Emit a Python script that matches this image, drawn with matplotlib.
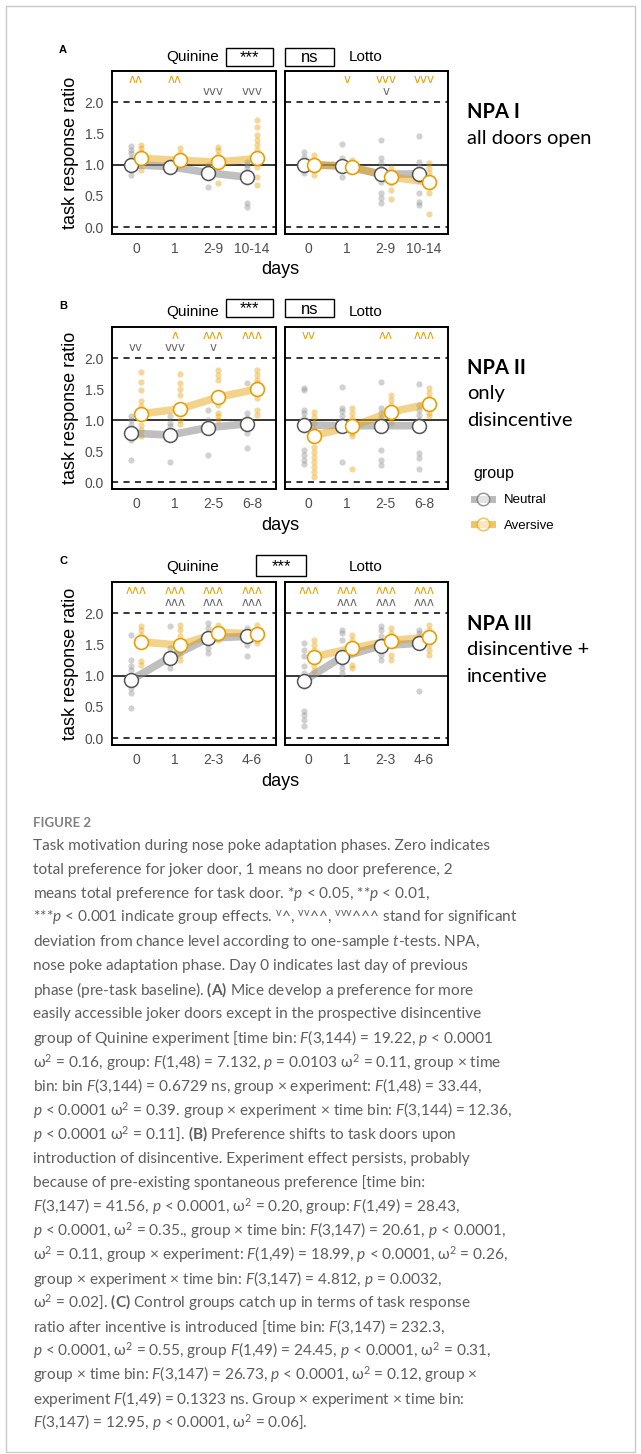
import numpy as np
import matplotlib
matplotlib.use("Agg")
import matplotlib.pyplot as plt
from matplotlib.lines import Line2D
from matplotlib.patches import Rectangle

# ---------------- data ----------------
a_days = ["0", "1", "2-9", "10-14"]
b_days = ["0", "1", "2-5", "6-8"]
c_days = ["0", "1", "2-3", "4-6"]

# Panel A  (NPA I)
a_quin_neu_mean = [1.00, 0.97, 0.87, 0.80]
a_quin_ave_mean = [1.10, 1.07, 1.04, 1.10]
a_quin_neu_pts = [[1.30, 1.24, 1.18, 1.10, 1.05, 1.00, 0.92, 0.84],
                  [1.05, 1.00, 0.98, 0.95, 0.92],
                  [1.00, 0.92, 0.78, 0.65],
                  [1.05, 1.00, 0.94, 0.89, 0.81, 0.73, 0.38, 0.33]]
a_quin_ave_pts = [[1.32, 1.26, 1.21, 1.16, 1.10, 1.02, 0.92],
                  [1.26, 1.18, 1.10, 1.05, 1.00],
                  [1.29, 1.24, 1.16, 1.08, 1.00, 0.70],
                  [1.71, 1.61, 1.48, 1.40, 1.32, 1.24, 1.13, 0.97, 0.81, 0.68]]
a_quin_sig_ave = ["^^", "^^", "", ""]
a_quin_sig_neu = ["", "", "vvv", "vvv"]

a_lotto_neu_mean = [1.00, 0.98, 0.85, 0.85]
a_lotto_ave_mean = [1.00, 0.97, 0.80, 0.72]
a_lotto_neu_pts = [[1.21, 1.13, 1.05, 1.00, 0.92, 0.86],
                   [1.33, 1.10, 1.03, 0.92, 0.81],
                   [1.39, 1.10, 1.02, 0.94, 0.86, 0.73, 0.54, 0.46, 0.38],
                   [1.46, 1.05, 0.97, 0.89, 0.76, 0.54, 0.41, 0.36]]
a_lotto_ave_pts = [[1.16, 1.08, 1.00, 0.92, 0.84],
                   [1.08, 1.02, 0.97, 0.92],
                   [0.94, 0.89, 0.81, 0.70, 0.60, 0.45],
                   [1.02, 0.94, 0.86, 0.73, 0.65, 0.54, 0.21]]
a_lotto_sig_ave = ["", "v", "vvv", "vvv"]
a_lotto_sig_neu = ["", "", "v", ""]

# Panel B  (NPA II)
b_quin_neu_mean = [0.79, 0.76, 0.88, 0.94]
b_quin_ave_mean = [1.10, 1.18, 1.37, 1.50]
b_quin_neu_pts = [[1.06, 1.00, 0.92, 0.84, 0.76, 0.68, 0.36],
                  [1.06, 0.95, 0.90, 0.82, 0.74, 0.33],
                  [1.17, 1.00, 0.92, 0.84, 0.44],
                  [1.60, 1.11, 1.03, 0.95, 0.87, 0.79, 0.55]]
b_quin_ave_pts = [[1.77, 1.62, 1.49, 1.30, 1.22, 1.11, 1.03, 0.92, 0.84, 0.74],
                  [1.74, 1.60, 1.50, 1.41, 1.25, 1.14, 1.00, 0.94],
                  [1.80, 1.73, 1.65, 1.41, 1.25, 1.11, 1.06, 1.00],
                  [1.80, 1.73, 1.65, 1.60, 1.44, 1.35, 1.17, 1.09]]
b_quin_sig_ave = ["", "^", "^^^", "^^^"]
b_quin_sig_neu = ["vv", "vvv", "v", ""]

b_lotto_neu_mean = [0.92, 0.91, 0.91, 0.91]
b_lotto_ave_mean = [0.75, 0.90, 1.13, 1.26]
b_lotto_neu_pts = [[1.52, 1.49, 1.17, 1.12, 1.04, 0.96, 0.92, 0.84, 0.52, 0.44, 0.36, 0.30],
                   [1.54, 1.20, 1.15, 1.06, 0.98, 0.90, 0.33],
                   [1.61, 1.19, 1.11, 1.03, 0.90, 0.52, 0.36, 0.28],
                   [1.58, 1.25, 1.17, 1.09, 1.00, 0.90, 0.47, 0.39, 0.21]]
b_lotto_ave_pts = [[1.13, 1.05, 0.96, 0.84, 0.76, 0.68, 0.57, 0.49, 0.41, 0.33, 0.25, 0.17, 0.09],
                   [1.19, 1.11, 1.03, 0.95, 0.87, 0.79, 0.74, 0.21],
                   [1.41, 1.33, 1.25, 1.14, 1.03, 0.95],
                   [1.52, 1.44, 1.35, 1.27, 1.19, 1.11, 1.06]]
b_lotto_sig_ave = ["vv", "", "^^", "^^^"]
b_lotto_sig_neu = ["", "", "", ""]

# Panel C  (NPA III)
c_quin_neu_mean = [0.93, 1.29, 1.60, 1.63]
c_quin_ave_mean = [1.54, 1.49, 1.69, 1.67]
c_quin_neu_pts = [[1.65, 1.25, 1.15, 1.09, 0.99, 0.88, 0.80, 0.72, 0.48],
                  [1.79, 1.44, 1.36, 1.23, 1.12],
                  [1.84, 1.76, 1.68, 1.52, 1.44, 1.36],
                  [1.76, 1.68, 1.60, 1.49, 1.31]]
c_quin_ave_pts = [[1.79, 1.73, 1.65, 1.57, 1.49, 1.23, 1.17],
                  [1.81, 1.73, 1.63, 1.52, 1.41, 1.33, 1.25],
                  [1.81, 1.73, 1.65, 1.57],
                  [1.81, 1.73, 1.65, 1.57, 1.52]]
c_quin_sig_ave = ["^^^", "^^^", "^^^", "^^^"]
c_quin_sig_neu = ["", "^^^", "^^^", "^^^"]

c_lotto_neu_mean = [0.92, 1.30, 1.48, 1.52]
c_lotto_ave_mean = [1.30, 1.44, 1.56, 1.62]
c_lotto_neu_pts = [[1.52, 1.41, 1.31, 1.15, 1.04, 0.91, 0.83, 0.43, 0.37, 0.29, 0.19],
                   [1.73, 1.68, 1.57, 1.31, 1.20, 1.12, 1.04],
                   [1.79, 1.73, 1.63, 1.41, 1.33, 1.25],
                   [1.73, 1.68, 1.57, 1.49, 0.75]]
c_lotto_ave_pts = [[1.57, 1.49, 1.41, 1.33, 1.23, 1.15, 1.07],
                   [1.65, 1.57, 1.49, 1.36, 1.17, 1.12],
                   [1.76, 1.68, 1.63, 1.49, 1.33, 1.25],
                   [1.81, 1.73, 1.65, 1.49, 1.41, 1.33]]
c_lotto_sig_ave = ["^^^", "^^^", "^^^", "^^^"]
c_lotto_sig_neu = ["", "^^^", "^^^", "^^^"]

yticks = [0.0, 0.5, 1.0, 1.5, 2.0]

caption_lines = [
    "Task motivation during nose poke adaptation phases. Zero indicates",
    "total preference for joker door, 1 means no door preference, 2",
    r"means total preference for task door. *$p$ < 0.05, **$p$ < 0.01,",
    r"***$p$ < 0.001 indicate group effects. $^{\rm v}$^, $^{\rm vv}$^^, $^{\rm vvv}$^^^ stand for significant",
    r"deviation from chance level according to one-sample $t$-tests. NPA,",
    "nose poke adaptation phase. Day 0 indicates last day of previous",
    r"phase (pre-task baseline). $\mathbf{(A)}$ Mice develop a preference for more",
    "easily accessible joker doors except in the prospective disincentive",
    r"group of Quinine experiment [time bin: $F$(3,144) = 19.22, $p$ < 0.0001",
    r"$\mathrm{\omega}^2$ = 0.16, group: $F$(1,48) = 7.132, $p$ = 0.0103 $\mathrm{\omega}^2$ = 0.11, group × time",
    r"bin: bin $F$(3,144) = 0.6729 ns, group × experiment: $F$(1,48) = 33.44,",
    r"$p$ < 0.0001 $\mathrm{\omega}^2$ = 0.39. group × experiment × time bin: $F$(3,144) = 12.36,",
    r"$p$ < 0.0001 $\mathrm{\omega}^2$ = 0.11]. $\mathbf{(B)}$ Preference shifts to task doors upon",
    "introduction of disincentive. Experiment effect persists, probably",
    "because of pre-existing spontaneous preference [time bin:",
    r"$F$(3,147) = 41.56, $p$ < 0.0001, $\mathrm{\omega}^2$ = 0.20, group: $F$(1,49) = 28.43,",
    r"$p$ < 0.0001, $\mathrm{\omega}^2$ = 0.35., group × time bin: $F$(3,147) = 20.61, $p$ < 0.0001,",
    r"$\mathrm{\omega}^2$ = 0.11, group × experiment: $F$(1,49) = 18.99, $p$ < 0.0001, $\mathrm{\omega}^2$ = 0.26,",
    r"group × experiment × time bin: $F$(3,147) = 4.812, $p$ = 0.0032,",
    r"$\mathrm{\omega}^2$ = 0.02]. $\mathbf{(C)}$ Control groups catch up in terms of task response",
    r"ratio after incentive is introduced [time bin: $F$(3,147) = 232.3,",
    r"$p$ < 0.0001, $\mathrm{\omega}^2$ = 0.55, group $F$(1,49) = 24.45, $p$ < 0.0001, $\mathrm{\omega}^2$ = 0.31,",
    r"group × time bin: $F$(3,147) = 26.73, $p$ < 0.0001, $\mathrm{\omega}^2$ = 0.12, group ×",
    r"experiment $F$(1,49) = 0.1323 ns. Group × experiment × time bin:",
    r"$F$(3,147) = 12.95, $p$ < 0.0001, $\mathrm{\omega}^2$ = 0.06].",
]

# ---------------- style ----------------
plt.rcParams['font.family'] = ['Liberation Sans', 'DejaVu Sans']
plt.rcParams['mathtext.fontset'] = 'custom'
plt.rcParams['mathtext.rm'] = 'Lato'
plt.rcParams['mathtext.it'] = 'Lato:italic'
plt.rcParams['mathtext.bf'] = 'Lato:bold'

ORANGE = "#E69F00"
GRAY = "#8C8C8C"
TICK = "#4D4D4D"
CAP = "#5E5E5E"

W, H = 641, 1454
fig = plt.figure(figsize=(W / 100, H / 100), dpi=100)


def px_axes(x0, y0, x1, y1):
    return fig.add_axes([x0 / W, 1 - y1 / H, (x1 - x0) / W, (y1 - y0) / H])


def ftext(x, y, s, **kw):
    fig.text(x / W, 1 - y / H, s, **kw)


def fbox(x0, y0, x1, y1, s):
    fig.add_artist(Rectangle((x0 / W, 1 - y1 / H), (x1 - x0) / W, (y1 - y0) / H,
                             transform=fig.transFigure, fill=False, ec='black', lw=1.0))
    ftext((x0 + x1) / 2, (y0 + y1) / 2 + 1, s, ha='center', va='center', fontsize=12)


def sig_label(s):
    # carets drawn as turned v so they mirror the "v" marks
    return s.replace("^", "\u028c")


def draw_panel(ax, days, neu_mean, ave_mean, neu_pts, ave_pts, sig_neu, sig_ave, show_y):
    x = np.arange(len(days))
    d = 0.13
    ax.axhline(1.0, color='black', lw=1.1, zorder=1)
    for yv in (0.0, 2.0):
        ax.axhline(yv, color='black', lw=1.1, ls=(0, (4, 3.5)), zorder=1)
    for i in range(len(days)):
        ax.scatter(np.full(len(neu_pts[i]), x[i] - d), neu_pts[i], s=20, color=GRAY,
                   alpha=0.4, lw=0, zorder=2)
        ax.scatter(np.full(len(ave_pts[i]), x[i] + d), ave_pts[i], s=20, color=ORANGE,
                   alpha=0.4, lw=0, zorder=2)
    ax.plot(x - d, neu_mean, color=GRAY, lw=5.5, alpha=0.55, zorder=3)
    ax.plot(x + d, ave_mean, color=ORANGE, lw=5.5, alpha=0.45, zorder=3)
    ax.plot(x - d, neu_mean, ls='none', marker='o', ms=10, mfc='white', mec='#555555',
            mew=1.1, zorder=4)
    ax.plot(x + d, ave_mean, ls='none', marker='o', ms=10, mfc='white', mec=ORANGE,
            mew=1.2, zorder=5)
    for i in range(len(days)):
        ax.text(x[i], 2.37, sig_label(sig_ave[i]), color=ORANGE, ha='center', va='center',
                fontsize=8.5, family=['DejaVu Sans'])
        ax.text(x[i], 2.17, sig_label(sig_neu[i]), color='#666666', ha='center', va='center',
                fontsize=8.5, family=['DejaVu Sans'])
    ax.set_xlim(-0.62, 3.62)
    ax.set_ylim(-0.11, 2.5)
    ax.set_xticks(x, days)
    ax.set_yticks(yticks)
    ax.yaxis.set_major_formatter('{x:.1f}')
    ax.tick_params(length=0, labelsize=10, labelcolor=TICK, pad=6)
    if not show_y:
        ax.set_yticklabels([])
    else:
        ax.set_ylabel("task response ratio", fontsize=13, labelpad=4)
    for sp in ax.spines.values():
        sp.set_linewidth(1.4)


panels = [
    dict(top=71, bot=234, letter="A", days=a_days,
         q=(a_quin_neu_mean, a_quin_ave_mean, a_quin_neu_pts, a_quin_ave_pts, a_quin_sig_neu, a_quin_sig_ave),
         l=(a_lotto_neu_mean, a_lotto_ave_mean, a_lotto_neu_pts, a_lotto_ave_pts, a_lotto_sig_neu, a_lotto_sig_ave),
         title="NPA I", sub=["all doors open"], head=57),
    dict(top=327, bot=489, letter="B", days=b_days,
         q=(b_quin_neu_mean, b_quin_ave_mean, b_quin_neu_pts, b_quin_ave_pts, b_quin_sig_neu, b_quin_sig_ave),
         l=(b_lotto_neu_mean, b_lotto_ave_mean, b_lotto_neu_pts, b_lotto_ave_pts, b_lotto_sig_neu, b_lotto_sig_ave),
         title="NPA II", sub=["only", "disincentive"], head=312),
    dict(top=582, bot=745, letter="C", days=c_days,
         q=(c_quin_neu_mean, c_quin_ave_mean, c_quin_neu_pts, c_quin_ave_pts, c_quin_sig_neu, c_quin_sig_ave),
         l=(c_lotto_neu_mean, c_lotto_ave_mean, c_lotto_neu_pts, c_lotto_ave_pts, c_lotto_sig_neu, c_lotto_sig_ave),
         title="NPA III", sub=["disincentive +", "incentive"], head=567),
]

for p in panels:
    axq = px_axes(112, p["top"], 276, p["bot"])
    axl = px_axes(285, p["top"], 448, p["bot"])
    draw_panel(axq, p["days"], *p["q"], show_y=True)
    draw_panel(axl, p["days"], *p["l"], show_y=False)
    ftext(280, p["bot"] + 36, "days", ha='center', va='center', fontsize=13)
    ftext(63, p["top"] - 21, p["letter"], ha='center', va='center', fontsize=8, fontweight='bold')
    ftext(193, p["head"], "Quinine", ha='center', va='center', fontsize=11)
    ftext(366, p["head"], "Lotto", ha='center', va='center', fontsize=11)
    ty = (p["top"] + p["bot"]) / 2 - 40
    ftext(467, ty, p["title"], ha='left', va='center', fontsize=14.5,
          fontweight='bold', family='Lato')
    for k, s in enumerate(p["sub"]):
        ftext(467, ty + 26 + 27 * k, s, ha='left', va='center', fontsize=14.5, family='Lato')

# significance boxes
fbox(226, 48, 273, 66, "***")
fbox(285, 48, 334, 66, "ns")
fbox(226, 299, 273, 317, "***")
fbox(285, 299, 334, 317, "ns")
fbox(256, 555, 306, 576, "***")

# legend
handles = [Line2D([], [], color=GRAY, lw=5, alpha=0.6, marker='o', ms=9, mfc='white',
                  mec='#555555', mew=1.1),
           Line2D([], [], color=ORANGE, lw=5, alpha=0.6, marker='o', ms=9, mfc='white',
                  mec=ORANGE, mew=1.2)]
leg = fig.legend(handles, ["Neutral", "Aversive"], title="group", loc='upper left',
                 bbox_to_anchor=(462 / W, 1 - 454 / H), frameon=False, fontsize=9.5,
                 title_fontsize=11.5, handlelength=1.4, handletextpad=0.9,
                 labelspacing=1.0, alignment='left')

# caption
ftext(33, 823, "FIGURE 2", ha='left', va='center', fontsize=9.5, color='#808080',
      family='Lato', fontweight='bold')
for i, line in enumerate(caption_lines):
    ftext(33, 846 + 24.04 * i, line, ha='left', va='center', fontsize=11.1, color=CAP,
          family='Lato')

# frame around the whole figure
fig.add_artist(Rectangle((6 / W, 1 - 1452 / H), (635 - 6) / W, (1452 - 6) / H,
                         transform=fig.transFigure, fill=False, ec='#C8C8C8', lw=1.0))

fig.savefig("out.png", dpi=100)
